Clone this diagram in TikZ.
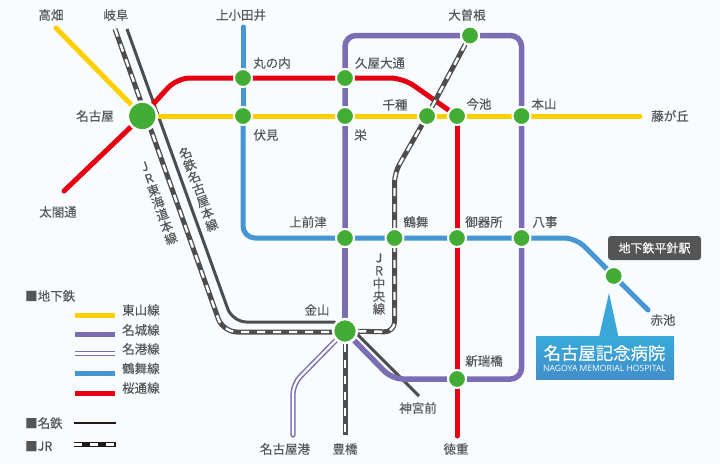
\documentclass[tikz,border=0pt]{standalone}
\usepackage{fontspec}
\setmainfont[FakeBold=0.1]{Noto Sans CJK JP}
\newfontfamily\latinfont{Open Sans}
\pgfdeclarelayer{paper}
\pgfdeclarelayer{lines}
\pgfsetlayers{paper,lines,main}
\definecolor{bgc}{HTML}{F8FCFF}
\definecolor{yel}{HTML}{FFD000}
\definecolor{pur}{HTML}{7B6DB3}
\definecolor{blu}{HTML}{4596D3}
\definecolor{redl}{HTML}{E60012}
\definecolor{grn}{HTML}{43AC34}
\definecolor{gry}{HTML}{4D4D4D}
\definecolor{txt}{HTML}{555555}
\definecolor{blk}{HTML}{231815}
\tikzset{
  st/.style={circle,fill=grn,draw=white,line width=2pt,minimum size=18pt,inner sep=0pt},
  stbig/.style={st,line width=2.5pt,minimum size=29pt},
  stmid/.style={st,line width=2.5pt,minimum size=24pt},
  lbl/.style={text=txt,font=\fontsize{12.5}{13}\selectfont,inner sep=0pt},
  leg/.style={lbl,anchor=west},
  vert/.style={lbl,align=center,font=\fontsize{12.5}{12.8}\selectfont},
  yl/.style={draw=yel,line width=5pt,line cap=round},
  rl/.style={draw=redl,line width=5pt,line cap=round},
  pl/.style={draw=pur,line width=5.5pt},
  bl/.style={draw=blu,line width=5pt,line cap=round},
  ml/.style={draw=gry,line width=3pt},
  jrl/.style={draw=gry,line width=5pt,postaction={draw=white,line width=2.4pt,dash pattern=on 8pt off 8pt}},
  jrleg/.style={draw=blk,line width=5pt,postaction={draw=white,line width=2.4pt,dash pattern=on 8pt off 8pt}},
  mk/.style={draw=pur,line width=1.5pt,double=white,double distance=2.2pt,line cap=round},
}
\begin{document}
\begin{tikzpicture}[x=1pt,y=-1pt]
\useasboundingbox (0,0) rectangle (720,464);
\begin{pgfonlayer}{paper}
\fill[bgc] (0,0) rectangle (720,464);
\end{pgfonlayer}
% stations
\node[stbig] (nagoya) at (142.3,116) {};
\node[st] (maru) at (243,78) {};
\node[st] (hisaya) at (345,78) {};
\node[st] (fushimi) at (243,116) {};
\node[st] (sakae) at (345,116) {};
\node[st] (chikusa) at (427,116) {};
\node[st] (imaike) at (457,116) {};
\node[st] (motoyama) at (521.5,116) {};
\node[st] (ozone) at (470,35.5) {};
\node[st] (kamimaezu) at (345,238) {};
\node[st] (tsurumai) at (394.5,238) {};
\node[st] (gokiso) at (457,238) {};
\node[st] (yagoto) at (521.5,238) {};
\node[st] (hirabari) at (613.7,276) {};
\node[stmid] (kanayama) at (345,331) {};
\node[st] (shinmizu) at (457,379) {};
% free ends and bends
\coordinate (takabata) at (56,28);
\coordinate (fujigaoka) at (640,116);
\coordinate (taiko) at (64,191);
\coordinate (redA) at (177,78);
\coordinate (redB) at (403,78);
\coordinate (tokushige) at (457,436);
\coordinate (purA) at (345,35.5);
\coordinate (purB) at (521.5,35.5);
\coordinate (purC) at (521.5,379);
\coordinate (purD) at (392,379);
\coordinate (kamiotai) at (243,27);
\coordinate (bluA) at (243,238);
\coordinate (bluB) at (576,238);
\coordinate (akaike) at (648,310);
\coordinate (mtTop) at (127,29);
\coordinate (mtA) at (232.5,322);
\coordinate (mtB) at (345,322);
\coordinate (jingu) at (419,396);
\coordinate (jrTop) at (115,29);
\coordinate (jrA) at (223,332);
\coordinate (jrB) at (345,332);
\coordinate (chuoA) at (394.5,332);
\coordinate (chuoB) at (394.5,173);
\coordinate (toyo) at (345,435);
\coordinate (mkA) at (293,384);
\coordinate (mkEnd) at (293,435);
\begin{pgfonlayer}{lines}
\draw[ml,rounded corners=14pt] (mtTop) -- (mtA) -- (mtB) -- (jingu);
\draw[jrl,rounded corners=14pt] (jrTop) -- (jrA) -- (jrB);
\draw[yl] (takabata) -- (nagoya);
\draw[yl] (nagoya) -- (fushimi) -- (sakae) -- (chikusa) -- (imaike) -- (motoyama) -- (fujigaoka);
\draw[rl] (taiko) -- (nagoya);
\draw[rl,rounded corners=13pt] (nagoya) -- (redA) -- (maru) -- (hisaya) -- (redB) -- (imaike);
\draw[rl] (imaike) -- (gokiso) -- (shinmizu) -- (tokushige);
\draw[pl,rounded corners=11pt] (kamimaezu) -- (sakae) -- (hisaya) -- (purA) -- (ozone) -- (purB) -- (motoyama) -- (yagoto) -- (purC) -- (shinmizu) -- (purD) -- (kanayama);
\draw[pl] (kamimaezu) -- (kanayama);
\draw[bl] (kamiotai) -- (maru) -- (fushimi);
\draw[bl,rounded corners=12pt] (fushimi) -- (bluA) -- (kamimaezu) -- (tsurumai) -- (gokiso) -- (yagoto) -- (bluB) -- (hirabari) -- (akaike);
\draw[jrl,rounded corners=10pt] (kanayama) -- (chuoA) -- (tsurumai) -- (chuoB) -- (chikusa) -- (ozone);
\draw[jrl] (kanayama) -- (toyo);
\draw[mk,rounded corners=10pt] (kanayama) -- (mkA) -- (mkEnd);
\end{pgfonlayer}
% labels
\node[lbl] (lTakabata) at (51,15) {高畑};
\node[lbl] (lGifu) at (116,15) {岐阜};
\node[lbl] (lKamiotai) at (241,15) {上小田井};
\node[lbl] (lMaru) at (272,63) {丸の内};
\node[lbl] (lHisaya) at (380,63) {久屋大通};
\node[lbl] (lOzone) at (467,15) {大曽根};
\node[lbl] (lNagoya) at (95,116) {名古屋};
\node[lbl] (lTaiko) at (58,212) {太閤通};
\node[lbl] (lFushimi) at (266,135) {伏見};
\node[lbl] (lSakae) at (360.5,135) {栄};
\node[lbl] (lChikusa) at (395,105) {千種};
\node[lbl] (lImaike) at (479,104) {今池};
\node[lbl] (lMotoyama) at (544,104) {本山};
\node[lbl] (lFujigaoka) at (670,116) {藤が丘};
\node[lbl] (lKamimaezu) at (308,222) {上前津};
\node[lbl] (lTsurumai) at (416,222) {鶴舞};
\node[lbl] (lGokiso) at (484,222) {御器所};
\node[lbl] (lYagoto) at (545,222) {八事};
\node[lbl] (lAkaike) at (663,320) {赤池};
\node[lbl] (lKanayama) at (317,310) {金山};
\node[lbl] (lShinmizu) at (484,361) {新瑞橋};
\node[lbl] (lJingu) at (418,408) {神宮前};
\node[lbl] (lMeiko) at (285,449) {名古屋港};
\node[lbl] (lToyo) at (345,449) {豊橋};
\node[lbl] (lToku) at (456,449) {徳重};
\node[vert,rotate=20] (lMeitetsu) at (198.5,189) {名\\鉄\\名\\古\\屋\\本\\線};
\node[vert,rotate=20] (lTokaido) at (158,203) {J\\R\\東\\海\\道\\本\\線};
\node[vert] (lChuo) at (379,284) {J\\R\\中\\央\\線};
% legend
\node[leg] (hSub) at (25,296) {■地下鉄};
\node[leg] (t1) at (122,310) {東山線};
\node[leg] (t2) at (122,330) {名城線};
\node[leg] (t3) at (122,349) {名港線};
\node[leg] (t4) at (122,368.5) {鶴舞線};
\node[leg] (t5) at (122,388) {桜通線};
\node[leg] (hMei) at (25,423) {■名鉄};
\node[leg] (hJR) at (25,446) {■JR};
\coordinate (a1) at (75,315);\coordinate (b1) at (115,315);
\coordinate (a2) at (75,334.5);\coordinate (b2) at (115,334.5);
\coordinate (a3) at (75,353.5);\coordinate (b3) at (115,353.5);
\coordinate (a4) at (75,373.5);\coordinate (b4) at (115,373.5);
\coordinate (a5) at (75,393.5);\coordinate (b5) at (115,393.5);
\coordinate (a6) at (74,423);\coordinate (b6) at (116,423);
\coordinate (a7) at (74,444.5);\coordinate (b7) at (116,444.5);
\draw[draw=yel,line width=5pt] (a1) -- (b1);
\draw[draw=pur,line width=5pt] (a2) -- (b2);
\draw[mk,line cap=butt] (a3) -- (b3);
\draw[draw=blu,line width=5pt] (a4) -- (b4);
\draw[draw=redl,line width=5pt] (a5) -- (b5);
\draw[draw=blk,line width=2pt] (a6) -- (b6);
\draw[jrleg] (a7) -- (b7);
% callouts
\node[fill=txt,rounded corners=3pt,minimum width=93pt,minimum height=24pt,inner sep=0pt,text=white,font=\fontsize{12}{13}\selectfont] (hirabariTag) at (654.5,248) {地下鉄平針駅};
\shade[top color=blu!85!cyan,bottom color=blu!85!cyan] (609,293) -- (618.5,337) -- (599,337) -- cycle;
\node[top color=blu!80!cyan,bottom color=blu!95!black,minimum width=138pt,minimum height=43pt,inner sep=0pt] (hospital) at (605,357.5) {};
\node[text=white,inner sep=0pt,font=\fontsize{17.4}{18}\selectfont] (hospName) at (604.5,353) {名古屋記念病院};
\node[text=white,inner sep=0pt,font=\latinfont\fontsize{8.6}{9}\selectfont] (hospEn) at (604.5,368.5) {NAGOYA MEMORIAL HOSPITAL};
\end{tikzpicture}
\end{document}
